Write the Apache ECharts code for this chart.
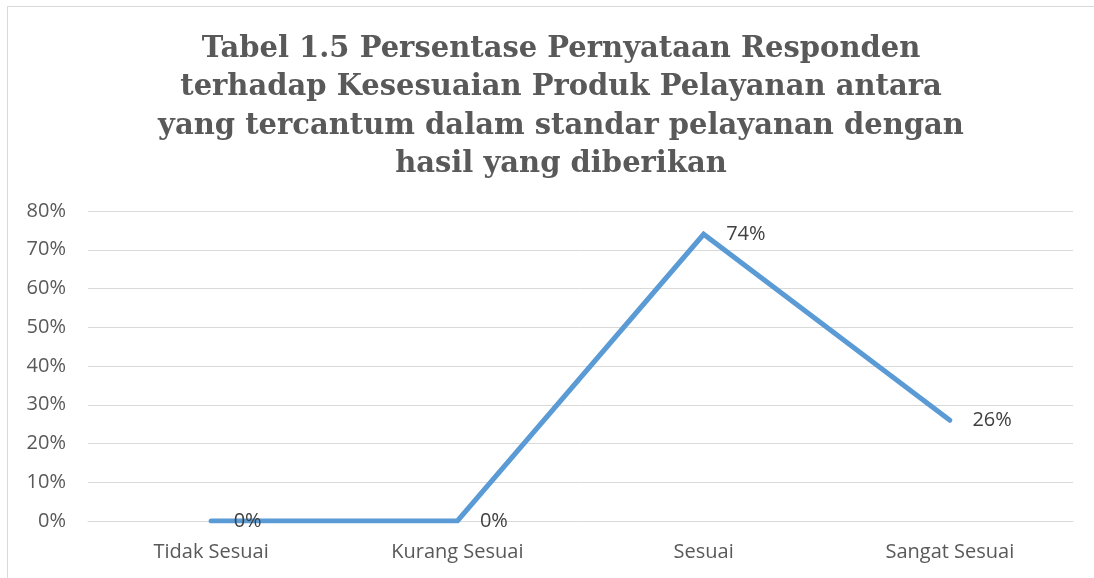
<!DOCTYPE html>
<html>
<head>
<meta charset="utf-8">
<script src="https://cdn.jsdelivr.net/npm/echarts@6/dist/echarts.min.js"></script>
<style>
  html, body { margin: 0; padding: 0; background: #fff; }
  #frame { position: absolute; left: 7px; top: 6px; width: 1100px; height: 600px; border: 1px solid #d9d9d9; }
  #chart { position: absolute; left: 0; top: 0; width: 1094px; height: 578px; }
</style>
</head>
<body>
<div id="frame"></div>
<div id="chart"></div>
<script>
  // data
  var categories = ['Tidak Sesuai', 'Kurang Sesuai', 'Sesuai', 'Sangat Sesuai'];
  var percentValues = [0, 0, 74, 26];
  var yTicks = [0, 10, 20, 30, 40, 50, 60, 70, 80];

  var chart = echarts.init(document.getElementById('chart'));

  var option = {
    backgroundColor: 'transparent',
    animation: false,
    title: {
      text: 'Tabel 1.5 Persentase Pernyataan Responden\nterhadap Kesesuaian Produk Pelayanan antara\nyang tercantum dalam standar pelayanan dengan\nhasil yang diberikan',
      left: 556,
      top: 25,
      textAlign: 'center',
      textStyle: {
        fontFamily: 'DejaVu Serif',
        fontWeight: 'bold',
        fontSize: 29,
        lineHeight: 38.5,
        color: '#595959'
      }
    },
    grid: { left: 88, right: 21, top: 211, bottom: 57 },
    xAxis: {
      type: 'category',
      data: categories,
      boundaryGap: true,
      axisLine: { lineStyle: { color: '#d9d9d9', width: 1 } },
      axisTick: { show: false },
      axisLabel: { color: '#595959', fontSize: 20, fontFamily: 'Open Sans', margin: 21 }
    },
    yAxis: {
      type: 'value',
      min: yTicks[0],
      max: yTicks[yTicks.length - 1],
      interval: 10,
      axisLine: { show: false },
      axisTick: { show: false },
      splitLine: { lineStyle: { color: '#d9d9d9', width: 1 } },
      axisLabel: {
        color: '#595959', fontSize: 20, fontFamily: 'Open Sans', margin: 22,
        formatter: function (v) { return v + '%'; }
      }
    },
    series: [{
      type: 'line',
      data: percentValues,
      symbol: 'circle',
      symbolSize: 1,
      itemStyle: { color: '#5B9BD5' },
      lineStyle: { color: '#5B9BD5', width: 5, cap: 'round', join: 'miter' },
      label: {
        show: true,
        position: 'right',
        distance: 22,
        color: '#404040',
        fontSize: 20,
        fontFamily: 'Open Sans',
        formatter: function (p) { return p.value + '%'; }
      }
    }]
  };

  chart.setOption(option);
</script>
</body>
</html>
